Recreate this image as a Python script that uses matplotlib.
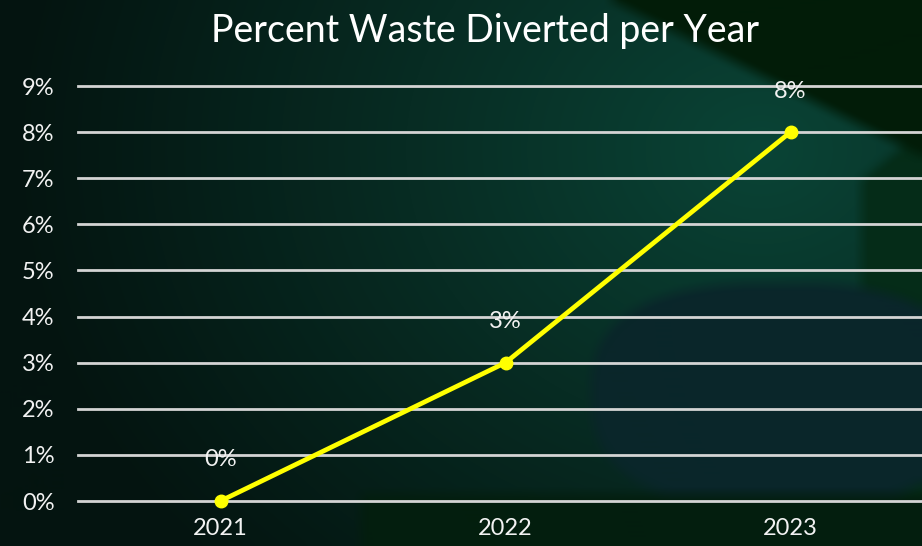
import numpy as np
import matplotlib
matplotlib.use("Agg")
import matplotlib.pyplot as plt

# Chart data
years = ["2021", "2022", "2023"]
diverted_pct = [0, 3, 8]
y_ticks = [0, 1, 2, 3, 4, 5, 6, 7, 8, 9]
y_tick_labels = [f"{v}%" for v in y_ticks]
title = "Percent Waste Diverted per Year"

plt.rcParams["font.family"] = ["Lato", "DejaVu Sans"]

W, H = 922, 546
fig = plt.figure(figsize=(W / 100, H / 100), dpi=100)


def box_blur(img, r):
    out = img.copy()
    for axis in (0, 1):
        pad = [(0, 0)] * 3
        pad[axis] = (r + 1, r)
        p = np.pad(out, pad, mode="edge")
        c = np.cumsum(p, axis=axis)
        if axis == 0:
            out = (c[2 * r + 1:] - c[:-2 * r - 1]) / (2 * r + 1)
        else:
            out = (c[:, 2 * r + 1:] - c[:, :-2 * r - 1]) / (2 * r + 1)
    return out


# Decorative dark-green backdrop
yy, xx = np.mgrid[0:H, 0:W].astype(float)
left = np.array([4, 20, 16], float)
teal = np.array([10, 68, 54], float)
# soft ramp toward a lighter teal up and to the right
d = np.hypot((xx - 760) / 760.0, (yy - 150) / 620.0)
t = np.clip(1 - d, 0, 1) ** 1.1
bg = left[None, None, :] * (1 - t[..., None]) + teal[None, None, :] * t[..., None]

# dark upper-right corner
corner = yy < (xx - 610) * 0.5
bg[corner] = np.array([2, 28, 8], float)
# right edge darker green below the corner
redge = (xx > 860) & (yy > 130 + (922 - xx) * 0.8) & ~corner
bg[redge] = np.array([5, 44, 24], float)
# rounded dark blob
u = (xx - 780) / 190.0
v = (yy - 395) / 112.0
blob = (np.abs(u) ** 2.6 + np.abs(v) ** 2.6) < 1
bg[blob] = np.array([10, 38, 42], float)
# bottom band
band = (yy > 494) & (xx > 360)
bg[band] = np.array([3, 30, 14], float)

bg = box_blur(bg, 7)
bg_ax = fig.add_axes([0, 0, 1, 1])
bg_ax.imshow(np.clip(bg, 0, 255).astype(np.uint8), aspect="auto",
             extent=[0, W, H, 0], interpolation="bilinear")
bg_ax.axis("off")

# Plot area
ax_left, ax_right = 78, 922
ax_top, ax_bottom = 86, 501
ax = fig.add_axes([ax_left / W, (H - ax_bottom) / H,
                   (ax_right - ax_left) / W, (ax_bottom - ax_top) / H])
ax.set_facecolor("none")

x = np.arange(len(years))
ax.plot(x, diverted_pct, color="#ffff00", lw=3.4, marker="o",
        markersize=9, zorder=5, clip_on=False)

for xi, val in zip(x, diverted_pct):
    ax.annotate(f"{val}%", (xi, val), xytext=(0, 22), textcoords="offset points",
                ha="center", va="bottom", color="#f2f2f2", fontsize=17)

ax.set_xlim(-0.5, -0.5 + (ax_right - ax_left) / 285.0)
ax.set_ylim(0, 9)
ax.set_xticks(x)
ax.set_xticklabels(years)
ax.set_yticks(y_ticks)
ax.set_yticklabels(y_tick_labels)
ax.tick_params(axis="both", length=0, colors="#f2f2f2", labelsize=17)
ax.tick_params(axis="y", pad=17)
ax.tick_params(axis="x", pad=12)
ax.grid(axis="y", color="#d4d4d4", lw=2.0, zorder=1)
for gl in ax.yaxis.get_gridlines():
    gl.set_clip_on(False)
ax.set_axisbelow(True)
for s in ax.spines.values():
    s.set_visible(False)

fig.text(485 / W, 1 - 31 / H, title, ha="center", va="center",
         color="#ffffff", fontsize=27)

fig.savefig("out.png", dpi=100)
